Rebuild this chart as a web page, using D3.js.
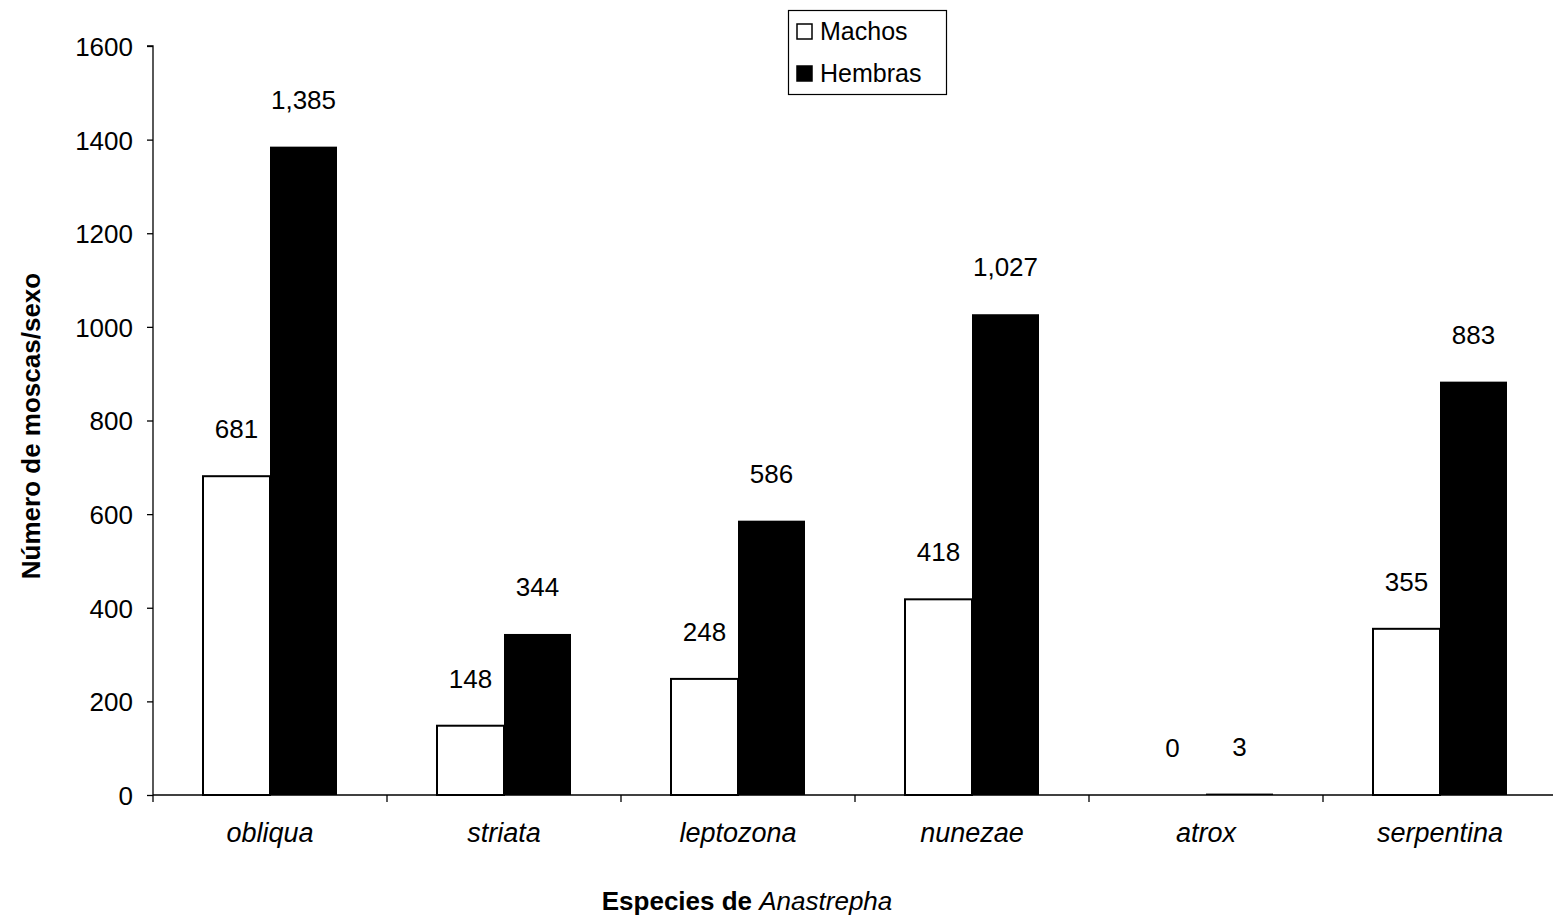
<!DOCTYPE html>
<html><head><meta charset="utf-8">
<script src="https://cdn.jsdelivr.net/npm/d3@7/dist/d3.min.js"></script>
<style>body{margin:0;background:#fff}svg{display:block}text{font-family:"Liberation Sans",Arial,sans-serif;fill:#000}</style>
</head><body>
<svg id="c" width="1553" height="919"></svg>
<script>
const categories = ["obliqua","striata","leptozona","nunezae","atrox","serpentina"];
const machos = [681,148,248,418,0,355];
const hembras = [1385,344,586,1027,3,883];
const valueLabelsM = ["681","148","248","418","0","355"];
const valueLabelsH = ["1,385","344","586","1,027","3","883"];
const yTicks = [0,200,400,600,800,1000,1200,1400,1600];
const seriesNames = ["Machos","Hembras"];

(function(){
const svg = d3.select("#c");
const pL = 153, pR = 1557, pT = 46, pB = 795;
const x = d3.scaleBand().domain(categories).range([pL, pR]).paddingInner(0).paddingOuter(0);
const y = d3.scaleLinear().domain([0,1600]).range([pB, pT]);
const bw = 67;
const fs = "26px";

// y axis
const ya = svg.append("g").attr("transform",`translate(${pL},0)`)
  .call(d3.axisLeft(y).tickValues(yTicks).tickSize(6).tickPadding(14).tickFormat(d3.format("d")));
ya.selectAll("text").style("font-size",fs).attr("dy","0.36em");
ya.selectAll("line,path").attr("stroke","#000").attr("stroke-width",1.3);
ya.select(".domain").attr("d",`M-6,${pT}H0V${pB}`);

// bars
const g = svg.append("g");
categories.forEach((c,i)=>{
  const cx = x(c) + x.bandwidth()/2;
  g.append("rect").attr("x",cx-bw).attr("y",y(machos[i])).attr("width",bw).attr("height",pB-y(machos[i]))
    .attr("fill","#fff").attr("stroke","#000").attr("stroke-width",machos[i]>0?2:0);
  g.append("rect").attr("x",cx).attr("y",y(hembras[i])).attr("width",bw).attr("height",pB-y(hembras[i]))
    .attr("fill","#000");
  g.append("text").attr("x",cx-bw/2).attr("y",y(machos[i])-38).attr("text-anchor","middle").style("font-size",fs).text(valueLabelsM[i]);
  g.append("text").attr("x",cx+bw/2).attr("y",y(hembras[i])-38).attr("text-anchor","middle").style("font-size",fs).text(valueLabelsH[i]);
});

// x axis
const xa = svg.append("g").attr("transform",`translate(0,${pB})`)
  .call(d3.axisBottom(x).tickSize(0).tickPadding(28));
xa.selectAll("text").style("font-size","27px").style("font-style","italic");
xa.select(".domain").attr("stroke","#000").attr("stroke-width",1.3).attr("d",`M${pL},0H${pR}`);
categories.forEach((c,i)=>{
  const tx = x(c);
  xa.append("line").attr("x1",tx).attr("x2",tx).attr("y1",0).attr("y2",7).attr("stroke","#000").attr("stroke-width",1.3);
});

// axis titles
svg.append("text").attr("transform","translate(40,426) rotate(-90)").attr("text-anchor","middle")
  .style("font-size","26px").style("font-weight","bold").text("Número de moscas/sexo");
const xt = svg.append("text").attr("x",747).attr("y",910).attr("text-anchor","middle").style("font-size","26px");
xt.append("tspan").style("font-weight","bold").text("Especies de ");
xt.append("tspan").style("font-style","italic").text("Anastrepha");

// legend
const lg = svg.append("g");
lg.append("rect").attr("x",788.5).attr("y",10.5).attr("width",158).attr("height",84).attr("fill","#fff").attr("stroke","#000").attr("stroke-width",1.2);
seriesNames.forEach((s,i)=>{
  const yy = 31 + i*42;
  lg.append("rect").attr("x",797).attr("y",yy-7).attr("width",15).attr("height",15)
    .attr("fill",i===0?"#fff":"#000").attr("stroke","#000").attr("stroke-width",1.5);
  lg.append("text").attr("x",820).attr("y",yy+9).style("font-size","25px").text(s);
});
})();
</script>
</body></html>
